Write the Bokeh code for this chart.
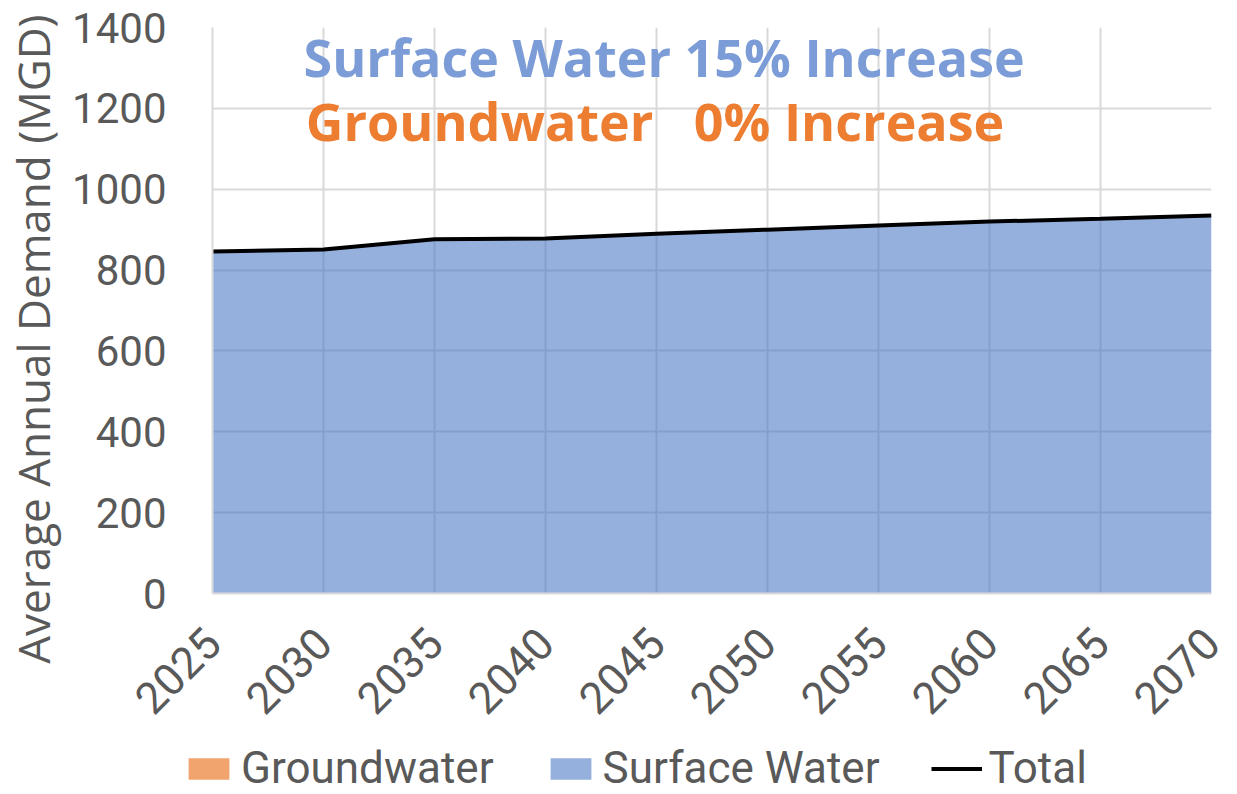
import math
from bokeh.plotting import figure
from bokeh.layouts import column
from bokeh.models import (Range1d, FixedTicker, Legend, LegendItem, Label)
from bokeh.embed import file_html
from bokeh.resources import INLINE

years = [2025, 2030, 2035, 2040, 2045, 2050, 2055, 2060, 2065, 2070]
surface_water = [846, 851, 876, 878, 890, 900, 910, 920, 927, 935]
groundwater = [0, 0, 0, 0, 0, 0, 0, 0, 0, 0]
total = [g + s for g, s in zip(groundwater, surface_water)]
y_ticks = [0, 200, 400, 600, 800, 1000, 1200, 1400]

GW_COLOR, GW_ALPHA = "#ED7D31", 0.7
SW_COLOR, SW_ALPHA = "#4472C4", 0.56

p = figure(width=1237, height=740, output_backend="svg", toolbar_location=None,
           x_range=Range1d(2025, 2070), y_range=Range1d(0, 1400),
           min_border_left=211, min_border_right=26, min_border_top=27, min_border_bottom=147)
p.outline_line_color = None
p.background_fill_color = "white"
p.border_fill_color = "white"

r_gw = p.varea(x=years, y1=[0] * len(years), y2=groundwater, fill_color=GW_COLOR, fill_alpha=GW_ALPHA)
r_sw = p.varea(x=years, y1=groundwater, y2=total, fill_color=SW_COLOR, fill_alpha=SW_ALPHA)
r_tot = p.line(x=years, y=total, line_color="black", line_width=4)

p.xaxis.ticker = FixedTicker(ticks=years)
p.yaxis.ticker = FixedTicker(ticks=y_ticks)
for ax in (p.xaxis[0], p.yaxis[0]):
    ax.axis_line_color = "#d9d9d9"
    ax.axis_line_width = 2
    ax.major_tick_line_color = None
    ax.minor_tick_line_color = None
    ax.major_label_text_font = "Roboto"
    ax.major_label_text_font_size = "42px"
    ax.major_label_text_color = "#595959"
p.xaxis.major_label_text_font_size = "44px"

p.yaxis.major_label_standoff = 40
p.yaxis.axis_label = "Average Annual Demand (MGD)" + "\u00a0" * 5
p.yaxis.axis_label_text_font = "Open Sans"
p.yaxis.axis_label_text_font_size = "44px"
p.yaxis.axis_label_text_font_style = "normal"
p.yaxis.axis_label_text_color = "#595959"
p.yaxis.axis_label_standoff = 6

p.xaxis.major_label_orientation = math.pi / 4
p.xaxis.major_label_standoff = 36

p.xgrid.ticker = FixedTicker(ticks=years)
p.ygrid.ticker = FixedTicker(ticks=y_ticks)
for g in (p.xgrid[0], p.ygrid[0]):
    g.grid_line_color = "#d9d9d9"
    g.grid_line_width = 2

p.add_layout(Label(x=2029.1, y=1328, text="Surface Water 15% Increase", text_font="Open Sans",
                   text_font_style="bold", text_font_size="52px", text_color="#7B9CD6",
                   text_baseline="middle"))
p.add_layout(Label(x=2029.2, y=1170, text="Groundwater\u00a0\u00a0\u00a00% Increase", text_font="Open Sans",
                   text_font_style="bold", text_font_size="52px", text_color="#ED7D31",
                   text_baseline="middle"))

# legend strip below the chart
pl = figure(width=1237, height=54, output_backend="svg", toolbar_location=None,
            x_range=Range1d(-10, -9), y_range=Range1d(-10, -9),
            min_border_left=0, min_border_right=0, min_border_top=0, min_border_bottom=0,
            x_axis_type=None, y_axis_type=None)
pl.outline_line_color = None
pl.xgrid.visible = False
pl.ygrid.visible = False
l_gw = pl.varea(x=years, y1=[0] * len(years), y2=groundwater, fill_color=GW_COLOR, fill_alpha=GW_ALPHA)
l_sw = pl.varea(x=years, y1=groundwater, y2=total, fill_color=SW_COLOR, fill_alpha=SW_ALPHA)
l_tot = pl.line(x=years, y=total, line_color="black", line_width=4)

if "frame_align" in pl.properties():
    pl.frame_align = False
    legend_loc = (183, 0)
else:
    legend_loc = (0, 0)

legend = Legend(items=[LegendItem(label="Groundwater", renderers=[l_gw]),
                       LegendItem(label="Surface Water", renderers=[l_sw]),
                       LegendItem(label="Total", renderers=[l_tot])],
                orientation="horizontal", location=legend_loc)
legend.label_text_font = "Roboto"
legend.label_text_font_size = "44px"
legend.label_text_color = "#595959"
legend.glyph_width = 51
legend.glyph_height = 27
legend.label_standoff = 7
legend.spacing = 51
legend.padding = 0
legend.margin = 0
legend.border_line_color = None
legend.background_fill_alpha = 0
pl.add_layout(legend)

open("out.html", "w").write(file_html(column(p, pl, spacing=0), INLINE))
